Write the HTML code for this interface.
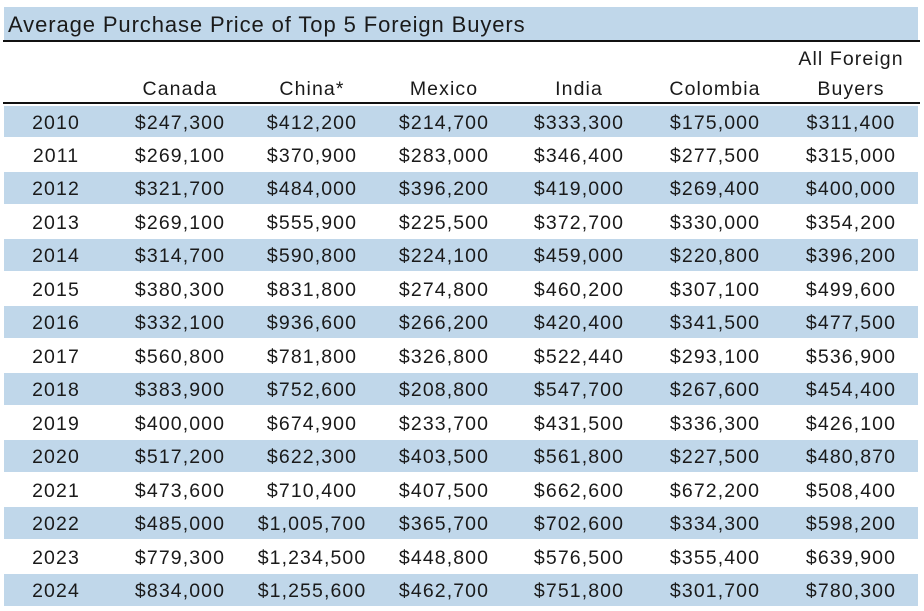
<!DOCTYPE html>
<html><head><meta charset="utf-8"><style>
html,body{margin:0;padding:0;background:#fff;width:924px;height:611px;overflow:hidden;font-family:"Liberation Sans",sans-serif;color:#1a1a1a}
.abs{position:absolute}
.cell{position:absolute;font-size:19.5px;letter-spacing:1.1px;text-align:center;transform:translateX(-50%);white-space:nowrap;line-height:33px}
</style></head><body>
<div class="abs" style="left:4px;top:7px;width:914px;height:33px;background:#c0d7ea"></div>
<div class="abs" style="left:8px;top:12px;font-size:22px;letter-spacing:0.9px;line-height:26px">Average Purchase Price of Top 5 Foreign Buyers</div>
<div class="abs" style="left:3px;top:40px;width:917px;height:2px;background:#111"></div>
<div class="abs" style="left:3px;top:102px;width:917px;height:2px;background:#111"></div>
<div id="t"></div>
<script>
const years=["2010","2011","2012","2013","2014","2015","2016","2017","2018","2019","2020","2021","2022","2023","2024"];
const canada=["$247,300","$269,100","$321,700","$269,100","$314,700","$380,300","$332,100","$560,800","$383,900","$400,000","$517,200","$473,600","$485,000","$779,300","$834,000"];
const china=["$412,200","$370,900","$484,000","$555,900","$590,800","$831,800","$936,600","$781,800","$752,600","$674,900","$622,300","$710,400","$1,005,700","$1,234,500","$1,255,600"];
const mexico=["$214,700","$283,000","$396,200","$225,500","$224,100","$274,800","$266,200","$326,800","$208,800","$233,700","$403,500","$407,500","$365,700","$448,800","$462,700"];
const india=["$333,300","$346,400","$419,000","$372,700","$459,000","$460,200","$420,400","$522,440","$547,700","$431,500","$561,800","$662,600","$702,600","$576,500","$751,800"];
const colombia=["$175,000","$277,500","$269,400","$330,000","$220,800","$307,100","$341,500","$293,100","$267,600","$336,300","$227,500","$672,200","$334,300","$355,400","$301,700"];
const allForeign=["$311,400","$315,000","$400,000","$354,200","$396,200","$499,600","$477,500","$536,900","$454,400","$426,100","$480,870","$508,400","$598,200","$639,900","$780,300"];
const headers=["","Canada","China*","Mexico","India","Colombia","Buyers"];
const t=document.getElementById('t');
const xs=[56,180,312,444,579,715,851];
const cols=[years,canada,china,mexico,india,colombia,allForeign];
const colNames=["year","canada","china","mexico","india","colombia","all-foreign"];
const top0=104.5,rh=33.47;
function add(txt,x,y,name){const d=document.createElement('div');d.className='cell';d.style.left=x+'px';d.style.top=y+'px';d.textContent=txt;


t.appendChild(d);}
headers.forEach((h,i)=>{if(h)add(h,xs[i],73,'header-'+colNames[i]);});
add("All Foreign",xs[6],43,'header-all-foreign-line1');
years.forEach((y,r)=>{
 const top=top0+r*rh;
 if(r%2===0){const b=document.createElement('div');b.className='abs';b.style.cssText='left:4px;width:914px;top:'+(top+1)+'px;height:'+(rh-2)+'px;background:#c0d7ea';
 
 
 t.appendChild(b);}
 cols.forEach((c,i)=>add(c[r],xs[i],top+2,'cell-'+y+'-'+colNames[i]));
});
</script>
</body></html>
